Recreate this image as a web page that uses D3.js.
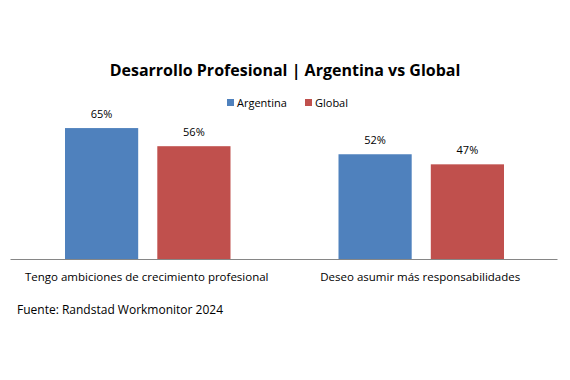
<!DOCTYPE html>
<html>
<head>
<meta charset="utf-8">
<script src="https://cdn.jsdelivr.net/npm/d3@7"></script>
<style>
  body { margin: 0; background: #fff; }
  text { font-family: "Open Sans", "DejaVu Sans", sans-serif; fill: #000; }
</style>
</head>
<body>
<div id="chart"></div>
<script>
// data
var categories = ["Tengo ambiciones de crecimiento profesional", "Deseo asumir más responsabilidades"];
var seriesNames = ["Argentina", "Global"];
var argentina = [65, 52];
var global = [56, 47];
var colors = ["#4F81BD", "#C0504D"];

var W = 570, H = 380;
var margin = {top: 118, right: 13, bottom: 121, left: 10},
    width = W - margin.left - margin.right,
    height = H - margin.top - margin.bottom;

var svg = d3.select("#chart")
  .append("svg")
    .attr("width", W)
    .attr("height", H)
  .append("g")
    .attr("transform", "translate(" + margin.left + "," + margin.top + ")");

var data = categories.map(function(c, i) {
  return {cat: c, vals: [argentina[i], global[i]]};
});

var x0 = d3.scaleBand()
  .domain(categories)
  .range([0, width]);

var x1 = d3.scaleBand()
  .domain(seriesNames)
  .range([55, x0.bandwidth() - 53])
  .paddingInner(0.207);

var y = d3.scaleLinear()
  .domain([0, 70])
  .range([height, 0]);

// groups
var groups = svg.selectAll(".grp")
  .data(data)
  .enter().append("g")
  .attr("transform", function(d) { return "translate(" + x0(d.cat) + ",0)"; });

groups.selectAll("rect")
  .data(function(d) { return d.vals.map(function(v, i) { return {s: seriesNames[i], v: v, i: i}; }); })
  .enter().append("rect")
  .attr("x", function(d) { return x1(d.s); })
  .attr("width", x1.bandwidth())
  .attr("y", function(d) { return y(d.v); })
  .attr("height", function(d) { return height - y(d.v); })
  .attr("fill", function(d) { return colors[d.i]; });

groups.selectAll(".lbl")
  .data(function(d) { return d.vals.map(function(v, i) { return {s: seriesNames[i], v: v}; }); })
  .enter().append("text")
  .attr("x", function(d) { return x1(d.s) + x1.bandwidth() / 2; })
  .attr("y", function(d) { return y(d.v) - 10; })
  .attr("text-anchor", "middle")
  .style("font-size", "11px")
  .text(function(d) { return d.v + "%"; });

// x axis
var xAxis = svg.append("g")
  .attr("transform", "translate(0," + height + ")")
  .call(d3.axisBottom(x0).tickSize(0).tickPadding(14));
xAxis.select(".domain").attr("stroke", "#868686");
xAxis.selectAll("text")
  .style("font-size", "11.5px")
  .style("font-family", "'Open Sans', sans-serif");

// title
d3.select("svg").append("text")
  .attr("x", 285)
  .attr("y", 76)
  .attr("text-anchor", "middle")
  .style("font-size", "16px")
  .style("font-weight", "bold")
  .text("Desarrollo Profesional | Argentina vs Global");

// legend
var legend = d3.select("svg").append("g");
var legX = [227, 305];
seriesNames.forEach(function(s, i) {
  legend.append("rect")
    .attr("x", legX[i]).attr("y", 99)
    .attr("width", 7).attr("height", 7)
    .attr("fill", colors[i]);
  legend.append("text")
    .attr("x", legX[i] + 10).attr("y", 107)
    .style("font-size", "11px")
    .text(s);
});

// source
d3.select("svg").append("text")
  .attr("x", 17)
  .attr("y", 314)
  .style("font-size", "12px")
  .text("Fuente: Randstad Workmonitor 2024");
</script>
</body>
</html>
